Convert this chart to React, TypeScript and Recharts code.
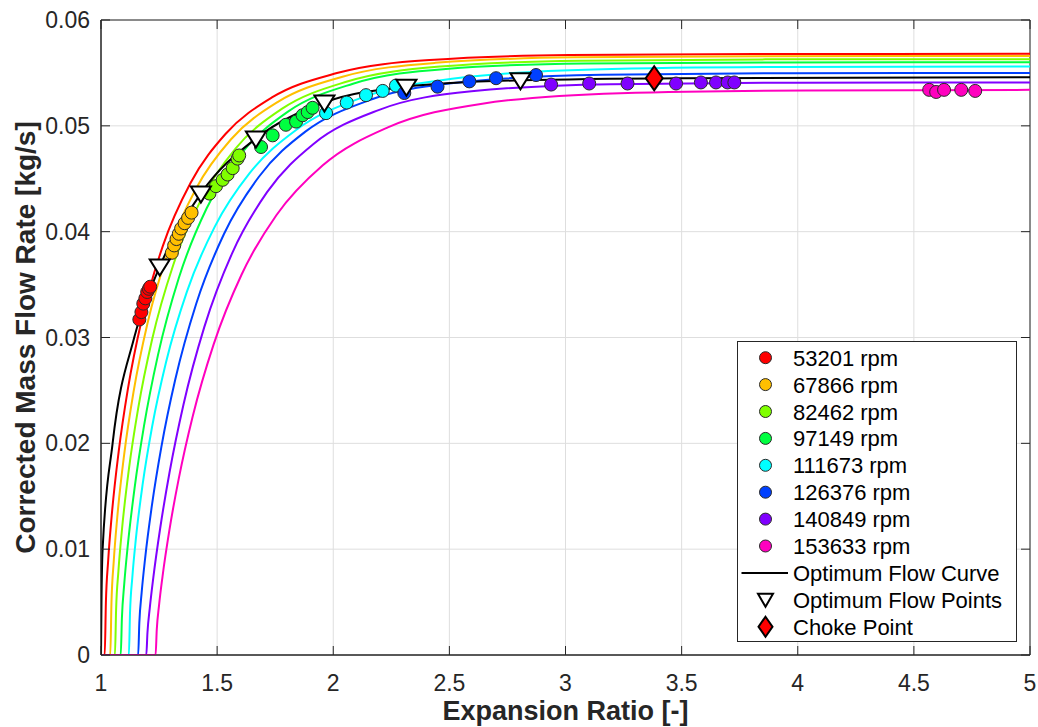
import { ComposedChart, Line, Scatter, XAxis, YAxis, CartesianGrid, ReferenceArea, Legend } from "recharts"

const xTicks = [1, 1.5, 2, 2.5, 3, 3.5, 4, 4.5, 5]
const yTicks = [0, 0.01, 0.02, 0.03, 0.04, 0.05, 0.06]

const speeds = ["53201", "67866", "82462", "97149", "111673", "126376", "140849", "153633"]
const speedColors = ["#ff0000", "#ffbf00", "#80ff00", "#00ff40", "#00ffff", "#0040ff", "#8000ff", "#ff00bf"]

// fitted speed lines as [expansion ratio, mass flow]
const curve53201 = [[1, 0], [1.016, 0], [1.021, 0.00491], [1.031, 0.00895], [1.046, 0.01314], [1.076, 0.0192], [1.116, 0.02517], [1.176, 0.03175], [1.266, 0.03864], [1.386, 0.04463], [1.536, 0.04923], [1.736, 0.05268], [2.016, 0.05499], [2.416, 0.05622], [3.016, 0.05669], [3.816, 0.05679], [5, 0.0568]]
const curve67866 = [[1, 0], [1.04, 0], [1.045, 0.00489], [1.055, 0.00889], [1.07, 0.01301], [1.1, 0.01899], [1.14, 0.02485], [1.2, 0.03133], [1.29, 0.03813], [1.41, 0.0441], [1.56, 0.04873], [1.76, 0.05224], [2.04, 0.05464], [2.44, 0.05595], [3.04, 0.05647], [3.84, 0.05658], [5, 0.0566]]
const curve82462 = [[1, 0], [1.06, 0], [1.065, 0.00428], [1.075, 0.00793], [1.09, 0.01179], [1.12, 0.01754], [1.16, 0.0233], [1.22, 0.02981], [1.31, 0.03678], [1.43, 0.04298], [1.58, 0.04787], [1.78, 0.05162], [2.06, 0.05419], [2.46, 0.0556], [3.06, 0.05616], [3.86, 0.05628], [5, 0.0563]]
const curve97149 = [[1, 0], [1.085, 0], [1.09, 0.00347], [1.1, 0.00669], [1.115, 0.01028], [1.145, 0.01584], [1.185, 0.02162], [1.245, 0.02831], [1.335, 0.03562], [1.455, 0.04221], [1.605, 0.04739], [1.805, 0.05134], [2.085, 0.05398], [2.485, 0.05538], [3.085, 0.05589], [3.885, 0.05599], [5, 0.056]]
const curve111673 = [[1, 0], [1.12, 0], [1.125, 0.00401], [1.135, 0.00737], [1.15, 0.01094], [1.18, 0.01623], [1.22, 0.02157], [1.28, 0.02767], [1.37, 0.03434], [1.49, 0.04048], [1.64, 0.04553], [1.84, 0.04961], [2.12, 0.05264], [2.52, 0.05448], [3.12, 0.05533], [3.92, 0.05556], [5, 0.0556]]
const curve126376 = [[1, 0], [1.16, 0], [1.165, 0.00302], [1.175, 0.00589], [1.19, 0.00914], [1.22, 0.01426], [1.26, 0.01967], [1.32, 0.02605], [1.41, 0.03319], [1.53, 0.0398], [1.68, 0.04519], [1.88, 0.04945], [2.16, 0.05246], [2.56, 0.05415], [3.16, 0.05483], [3.96, 0.05498], [5, 0.055]]
const curve140849 = [[1, 0], [1.195, 0], [1.2, 0.0021], [1.21, 0.00443], [1.225, 0.00727], [1.255, 0.012], [1.295, 0.01724], [1.355, 0.02365], [1.445, 0.031], [1.565, 0.03798], [1.715, 0.04373], [1.915, 0.04829], [2.195, 0.05149], [2.595, 0.05326], [3.195, 0.05394], [3.995, 0.05408], [5, 0.0541]]
const curve153633 = [[1, 0], [1.235, 0], [1.24, 0.00236], [1.25, 0.00471], [1.265, 0.00744], [1.295, 0.01187], [1.335, 0.01669], [1.395, 0.02256], [1.485, 0.02935], [1.605, 0.03593], [1.755, 0.04155], [1.955, 0.04627], [2.235, 0.04985], [2.635, 0.05207], [3.235, 0.05309], [4.035, 0.05335], [5, 0.0534]]

// measured points
const points53201 = [[1.165, 0.0317], [1.174, 0.0324], [1.182, 0.0332], [1.191, 0.0337], [1.199, 0.0343], [1.206, 0.0346], [1.212, 0.0348]]
const points67866 = [[1.305, 0.038], [1.315, 0.0387], [1.325, 0.0393], [1.335, 0.0398], [1.345, 0.0403], [1.36, 0.0408], [1.375, 0.0413], [1.39, 0.0418]]
const points82462 = [[1.467, 0.0436], [1.495, 0.0443], [1.524, 0.0449], [1.545, 0.0454], [1.567, 0.046], [1.588, 0.0469], [1.595, 0.0472]]
const points97149 = [[1.689, 0.048], [1.739, 0.0491], [1.796, 0.0501], [1.84, 0.0504], [1.868, 0.051], [1.89, 0.0513], [1.911, 0.0517]]
const points111673 = [[1.969, 0.0512], [2.058, 0.0522], [2.141, 0.0529], [2.213, 0.0533], [2.27, 0.0538]]
const points126376 = [[2.306, 0.0531], [2.449, 0.0537], [2.586, 0.0542], [2.701, 0.0545], [2.873, 0.0548]]
const points140849 = [[2.938, 0.0539], [3.102, 0.054], [3.267, 0.054], [3.476, 0.054], [3.583, 0.0541], [3.648, 0.0541], [3.698, 0.0541], [3.727, 0.0541]]
const points153633 = [[4.566, 0.0534], [4.596, 0.0532], [4.63, 0.0534], [4.704, 0.0534], [4.764, 0.0533]]

const optimumCurve = [[1, 0], [1.002, 0.005], [1.007, 0.01], [1.05, 0.02], [1.143, 0.03], [1.253, 0.0367], [1.43, 0.0436], [1.667, 0.0488], [1.962, 0.0522], [2.315, 0.0537], [2.806, 0.0543], [3.5, 0.0545], [5, 0.0546]]
const optimumPoints = [[1.253, 0.0367], [1.43, 0.0436], [1.667, 0.0488], [1.962, 0.0522], [2.315, 0.0537], [2.806, 0.0543]]
const chokePoint = [[3.382, 0.0545]]

const curves = [curve53201, curve67866, curve82462, curve97149, curve111673, curve126376, curve140849, curve153633]
const points = [points53201, points67866, points82462, points97149, points111673, points126376, points140849, points153633]

const FONT = "'Liberation Sans', Arial, Helvetica, sans-serif"
const AXIS = "#262626"
const PLOT_TOP = 20
const PLOT_RIGHT = 1030

const toXY = (pts: number[][]) => pts.map(([x, y]) => ({ x, y }))

function XTick(props: any) {
  const { x, y, payload } = props
  return (
    <g>
      <line x1={x} x2={x} y1={y} y2={y - 9} stroke={AXIS} />
      <line x1={x} x2={x} y1={PLOT_TOP} y2={PLOT_TOP + 9} stroke={AXIS} />
      <text x={x} y={y + 36} textAnchor="middle" fontSize={23} fontFamily={FONT} fill={AXIS}>
        {String(payload.value)}
      </text>
    </g>
  )
}

function YTick(props: any) {
  const { x, y, payload } = props
  return (
    <g>
      <line x1={x} x2={x + 9} y1={y} y2={y} stroke={AXIS} />
      <line x1={PLOT_RIGHT - 9} x2={PLOT_RIGHT} y1={y} y2={y} stroke={AXIS} />
      <text x={x - 11} y={y + 8} textAnchor="end" fontSize={23} fontFamily={FONT} fill={AXIS}>
        {String(payload.value)}
      </text>
    </g>
  )
}

const dotShape = (color: string) => (props: any) => (
  <circle cx={props.cx} cy={props.cy} r={6.5} fill={color} stroke="#2a2a2a" strokeWidth={1} />
)

const triangleShape = (props: any) => {
  const { cx, cy } = props
  return <path d={`M${cx - 10},${cy - 7} L${cx + 10},${cy - 7} L${cx},${cy + 9} Z`} fill="#fff" stroke="#000" strokeWidth={2} />
}

const diamondShape = (props: any) => {
  const { cx, cy } = props
  return <path d={`M${cx},${cy - 12} L${cx + 8.5},${cy} L${cx},${cy + 12} L${cx - 8.5},${cy} Z`} fill="#ff0000" stroke="#000" strokeWidth={2} />
}

function LegendBox() {
  const rowY = (i: number) => 16.7 + i * 26.9
  return (
    <svg width={280} height={301} style={{ display: "block" }}>
      <rect x={0.5} y={0.5} width={279} height={300} fill="#fff" stroke={AXIS} />
      {speeds.map((s, i) => (
        <g key={s}>
          <circle cx={28.5} cy={rowY(i)} r={6} fill={speedColors[i]} stroke="#2a2a2a" />
          <text x={56} y={rowY(i) + 8} fontSize={22} fontFamily={FONT} fill="#000">{`${s} rpm`}</text>
        </g>
      ))}
      <line x1={4.5} x2={51} y1={rowY(8)} y2={rowY(8)} stroke="#000" strokeWidth={2} />
      <text x={56} y={rowY(8) + 8} fontSize={22} fontFamily={FONT} fill="#000">Optimum Flow Curve</text>
      <path d={`M${21},${rowY(9) - 6} L${36},${rowY(9) - 6} L${28.5},${rowY(9) + 7} Z`} fill="#fff" stroke="#000" strokeWidth={2} />
      <text x={56} y={rowY(9) + 8} fontSize={22} fontFamily={FONT} fill="#000">Optimum Flow Points</text>
      <path d={`M28.5,${rowY(10) - 10} L35.5,${rowY(10)} L28.5,${rowY(10) + 10} L21.5,${rowY(10)} Z`} fill="#ff0000" stroke="#000" strokeWidth={2} />
      <text x={56} y={rowY(10) + 8} fontSize={22} fontFamily={FONT} fill="#000">Choke Point</text>
    </svg>
  )
}

export default function App() {
  return (
    <div style={{ position: "absolute", left: 0, top: 0, background: "#fff" }}>
      <ComposedChart width={1038} height={727} margin={{ top: 20, right: 8, bottom: 0, left: 0 }}>
        <CartesianGrid stroke="#dedede" />
        <XAxis
          type="number"
          dataKey="x"
          domain={[1, 5]}
          ticks={xTicks}
          interval={0}
          height={72}
          tickSize={0}
          tickMargin={0}
          tickLine={false}
          axisLine={{ stroke: AXIS }}
          tick={<XTick />}
          allowDataOverflow
          label={(p: any) => (
            <text x={p.viewBox.x + p.viewBox.width / 2} y={p.viewBox.y + 65} textAnchor="middle" fontSize={27} fontWeight="bold" fontFamily={FONT} fill={AXIS}>
              Expansion Ratio [-]
            </text>
          )}
        />
        <YAxis
          type="number"
          domain={[0, 0.06]}
          ticks={yTicks}
          interval={0}
          width={101}
          tickSize={0}
          tickMargin={0}
          tickLine={false}
          axisLine={{ stroke: AXIS }}
          tick={<YTick />}
          allowDataOverflow
          label={(p: any) => {
            const cx = p.viewBox.x + 25
            const cy = p.viewBox.y + p.viewBox.height / 2
            return (
              <text x={cx} y={cy} transform={`rotate(-90, ${cx}, ${cy})`} textAnchor="middle" dominantBaseline="central" fontSize={28} fontWeight="bold" fontFamily={FONT} fill={AXIS}>
                Corrected Mass Flow Rate [kg/s]
              </text>
            )
          }}
        />
        <ReferenceArea x1={1} x2={5} y1={0} y2={0.06} fill="none" stroke={AXIS} strokeWidth={1} ifOverflow="visible" />
        {curves.map((c, i) => (
          <Line
            key={speeds[i]}
            data={toXY(c)}
            dataKey="y"
            type="monotone"
            stroke={speedColors[i]}
            strokeWidth={2}
            dot={false}
            activeDot={false}
            isAnimationActive={false}
          />
        ))}
        <Line data={toXY(optimumCurve)} dataKey="y" type="monotone" stroke="#000" strokeWidth={2} dot={false} activeDot={false} isAnimationActive={false} />
        {points.map((p, i) => (
          <Scatter key={speeds[i]} data={toXY(p)} dataKey="y" fill={speedColors[i]} shape={dotShape(speedColors[i])} isAnimationActive={false} />
        ))}
        <Scatter data={toXY(optimumPoints)} dataKey="y" fill="#fff" shape={triangleShape} isAnimationActive={false} />
        <Scatter data={toXY(chokePoint)} dataKey="y" fill="#ff0000" shape={diamondShape} isAnimationActive={false} />
        <Legend
          layout="vertical"
          align="center"
          verticalAlign="middle"
          content={() => <LegendBox />}
          wrapperStyle={{ position: "absolute", left: 737, top: 341, width: 280, height: 301 }}
        />
      </ComposedChart>
    </div>
  )
}
